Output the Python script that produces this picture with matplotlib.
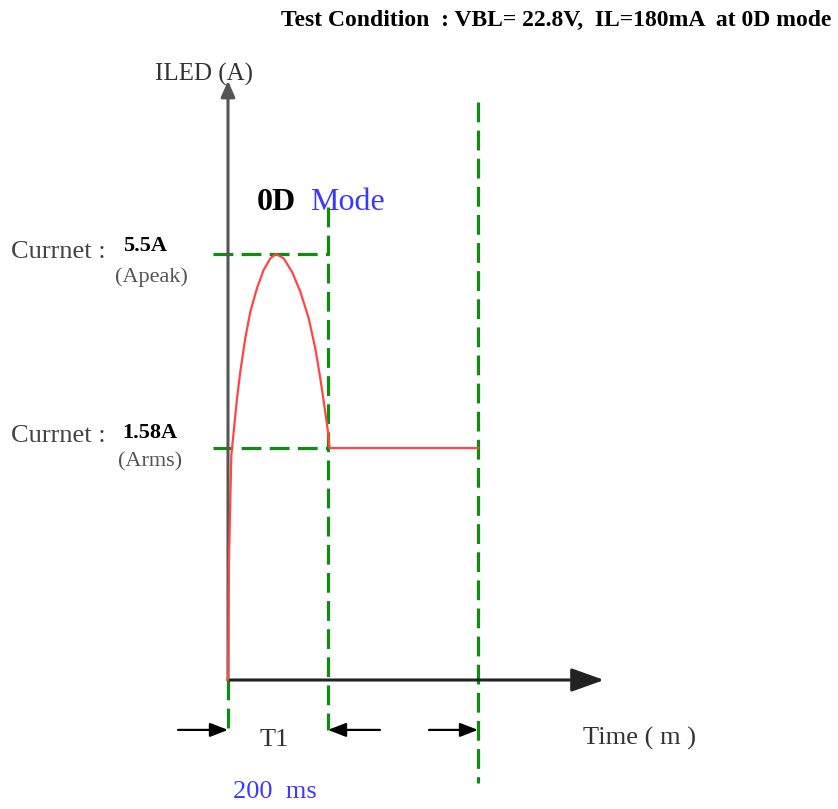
import numpy as np
import matplotlib.pyplot as plt

# ── Datos (tiempo en ms, corriente en A) ─────────────────────────────────────
T1_MS = 200          # duración del pulso 0D
T_END_MS = 500       # fin del tramo RMS
I_PEAK = 5.5         # Apeak
I_RMS = 1.58         # Arms

# forma del pulso
pulse_t = [0, 2, 6.6, 11.4, 18, 24.6, 34.6, 44.6, 58, 71.4, 84.6, 96,
           111.4, 128, 144.6, 161.4, 174.6, 184.6, 193.4, 200, 203, 500]
pulse_i = [0.0, 0.82, 1.53, 1.91, 2.58, 3.12, 3.80, 4.33, 4.81, 5.18, 5.41,
           5.5, 5.41, 5.14, 4.74, 4.20, 3.59, 2.99, 2.38, 1.91, 1.58, 1.58]

title_txt = 'Test Condition  : VBL= 22.8V,  IL=180mA  at 0D mode'

# ── Escala esquemática del eje Y (no es lineal en el dibujo original) ────────
def fwd(a):
    a = np.asarray(a, dtype=float)
    return np.where(a <= I_RMS, a * 146.8, 232 + (a - I_RMS) * 49.5)

def inv(p):
    p = np.asarray(p, dtype=float)
    return np.where(p <= 232, p / 146.8, I_RMS + (p - 232) / 49.5)

W, H = 838, 809
fig = plt.figure(figsize=(W / 100, H / 100), dpi=100)
ax = fig.add_axes([0, 0, 1, 1])
ax.set_yscale('function', functions=(fwd, inv))
ax.set_xlim(-456, 1220)
ax.set_ylim(float(inv(-129)), float(inv(680)))
ax.axis('off')

plt.rcParams['font.family'] = ['Liberation Serif', 'DejaVu Serif']

GREEN = '#108c10'
RED = '#ff4545'
BLUE = '#3a3aff'
dash = dict(color=GREEN, lw=2.3, dashes=(6.2, 2.6))

# líneas guía verdes
ax.plot([-30, T1_MS + 2], [I_PEAK, I_PEAK], **dash)
ax.plot([-30, T1_MS + 2], [I_RMS, I_RMS], **dash)
ax.plot([0, 0], [0, -0.34], **dash)
ax.plot([T1_MS, T1_MS], [6.45, -0.34], **dash)
ax.plot([T_END_MS, T_END_MS], [8.57, -0.70], **dash)

# ejes con flecha
ax.annotate('', xy=(0, 9.0), xytext=(0, 0),
            arrowprops=dict(arrowstyle='-|>,head_length=0.8,head_width=0.35',
                            mutation_scale=12, color='#555555', lw=2.2,
                            shrinkA=0, shrinkB=0))
ax.annotate('', xy=(752, 0), xytext=(0, 0),
            arrowprops=dict(arrowstyle='-|>,head_length=1.0,head_width=0.36',
                            mutation_scale=20, color='#222222', lw=2.2,
                            shrinkA=0, shrinkB=0))

# pulso
ax.plot(pulse_t, pulse_i, color=RED, lw=1.6, zorder=5,
        solid_joinstyle='round')

# flechas de T1
small = dict(arrowstyle='-|>,head_length=0.9,head_width=0.35',
             mutation_scale=12, color='black', lw=1.6, shrinkA=0, shrinkB=0)
ax.annotate('', xy=(0, -0.34), xytext=(-100, -0.34), arrowprops=small)
ax.annotate('', xy=(T1_MS, -0.34), xytext=(304, -0.34), arrowprops=small)
ax.annotate('', xy=(T_END_MS, -0.34), xytext=(402, -0.34), arrowprops=small)

# ── Textos (posiciones en píxeles de la figura) ──────────────────────────────
def put(x, y, s, **kw):
    kw.setdefault('va', 'center')
    kw.setdefault('ha', 'left')
    fig.text(x / W, 1 - y / H, s, **kw)

put(556, 20, title_txt, ha='center', fontsize=17, fontweight='bold')
put(155, 74, 'ILED (A)', fontsize=18, color='#333333')
put(257, 203, '0D', fontsize=23, fontweight='bold', color='black')
put(310, 203, 'Mode', fontsize=23, color=BLUE)
put(11, 252, 'Currnet :', fontsize=19, color='#444444')
put(123, 246, f'{I_PEAK}A', fontsize=16, fontweight='bold')
put(115, 277, '(Apeak)', fontsize=16, color='#555555')
put(11, 436, 'Currnet :', fontsize=19, color='#444444')
put(122, 433, f'{I_RMS}A', fontsize=16, fontweight='bold')
put(118, 462, '(Arms)', fontsize=16, color='#555555')
put(260, 740, 'T1', fontsize=19, color='#333333')
put(583, 738, 'Time ( m )', fontsize=19, color='#333333')
put(233, 792, f'{T1_MS}  ms', fontsize=19, color=BLUE)

fig.savefig('out.png', dpi=100)
